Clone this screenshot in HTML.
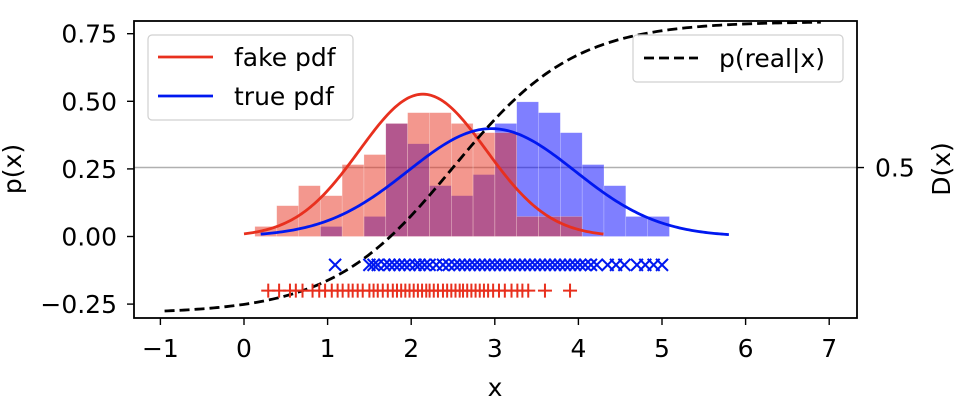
<!DOCTYPE html>
<html><head><meta charset="utf-8"><style>
html,body{margin:0;padding:0;background:#fff;}
svg{display:block;font-family:"DejaVu Sans","Liberation Sans",sans-serif;}
</style></head><body>
<svg id="chart" width="964" height="420" viewBox="0 0 964 420" xmlns="http://www.w3.org/2000/svg">
<g id="hists"></g>
<g id="lines"></g>
<g id="marks"></g>
<g id="axes"></g>
</svg>
<script>
const binStart = 0.13;
const binWidth = 0.261;
const fakeHist = [0.037,0.114,0.188,0.151,0.266,0.303,0.418,0.458,0.458,0.418,0.384,0.384,0.074,0.074,0.074,0,0,0,0];
const trueHist = [0,0,0,0.037,0,0.074,0.418,0.343,0.188,0.151,0.229,0.418,0.498,0.458,0.384,0.266,0.188,0.074,0.074];
const fakeMean = 2.14, fakeStd = 0.758, fakeRange = [0.0, 4.3];
const trueMean = 2.96, trueStd = 1.0, trueRange = [0.2, 5.8];
const discMid = 2.5, discSlope = 1.37, discRange = [-0.95, 6.9];
const fakeSamples = [0.29,0.42,0.55,0.62,0.7,0.82,0.9,0.97,1.05,1.12,1.18,1.25,1.3,1.36,1.42,1.5,1.55,1.6,1.66,1.72,1.78,1.83,1.88,1.93,1.98,2.03,2.08,2.13,2.18,2.22,2.27,2.32,2.38,2.43,2.48,2.53,2.58,2.62,2.67,2.72,2.77,2.82,2.87,2.92,2.98,3.05,3.12,3.2,3.27,3.33,3.4,3.6,3.9];
const trueSamples = [1.09,1.5,1.55,1.6,1.68,1.74,1.8,1.86,1.92,1.98,2.05,2.1,2.16,2.22,2.3,2.38,2.45,2.52,2.58,2.64,2.7,2.76,2.82,2.88,2.94,3.0,3.06,3.12,3.18,3.24,3.3,3.36,3.42,3.48,3.54,3.6,3.66,3.72,3.78,3.84,3.9,3.96,4.02,4.08,4.15,4.22,4.35,4.45,4.55,4.7,4.8,4.9,5.0];
const xTicks = [-1,0,1,2,3,4,5,6,7];
const yTicks = [0.75,0.50,0.25,0.00,-0.25];
const yTickLabels = ["0.75","0.50","0.25","0.00","\u22120.25"];
const fakeMarkerY = -0.2, trueMarkerY = -0.105;

const L=134,R=857,T=21,B=318;
const FS=25;
const X = v => 244 + v*83.6;
const Y = v => 236.5 - v*270.4;
const dLo=-0.285, dHi=0.795;
const YD = d => Y(dLo + d*(dHi-dLo));
const NS="http://www.w3.org/2000/svg";
function mk(tag, attrs, parent){const e=document.createElementNS(NS,tag);for(const k in attrs)e.setAttribute(k,attrs[k]);parent.appendChild(e);return e;}
const hists=document.getElementById('hists'),lines=document.getElementById('lines'),marks=document.getElementById('marks'),axes=document.getElementById('axes');

let ref=mk('line',{x1:L,x2:R,y1:YD(0.5),y2:YD(0.5),stroke:'#b0b0b0','stroke-width':1.5},hists);



function drawHist(vals,color,name){
  vals.forEach((h,i)=>{
    if(h<=0)return;
    const x0=X(binStart+i*binWidth),x1=X(binStart+(i+1)*binWidth);
    const r=mk('rect',{x:x0,y:Y(h),width:x1-x0,height:Y(0)-Y(h),fill:color,'fill-opacity':0.5,stroke:'#fff','stroke-opacity':0.4,'stroke-width':0.5},hists);
    
    
  });
}
drawHist(trueHist,'#0000ff','true-hist');
drawHist(fakeHist,'#e8301e','fake-hist');

function gauss(m,s,x){return Math.exp(-0.5*((x-m)/s)**2)/(s*Math.sqrt(2*Math.PI));}
function curve(fn,range,yf){let d='';for(let i=0;i<=200;i++){const x=range[0]+(range[1]-range[0])*i/200;d+=(i?'L':'M')+X(x).toFixed(2)+','+yf(fn(x)).toFixed(2);}return d;}
let p1=mk('path',{d:curve(x=>gauss(fakeMean,fakeStd,x),fakeRange,Y),fill:'none',stroke:'#e8301e','stroke-width':2.8},lines);


let p2=mk('path',{d:curve(x=>gauss(trueMean,trueStd,x),trueRange,Y),fill:'none',stroke:'#0018f0','stroke-width':2.8},lines);


let p3=mk('path',{d:curve(x=>1/(1+Math.exp(-discSlope*(x-discMid))),discRange,YD),fill:'none',stroke:'#000','stroke-width':2.8,'stroke-dasharray':'10,5'},lines);



fakeSamples.forEach(v=>{
  const cx=X(v),cy=Y(fakeMarkerY);
  const g=mk('path',{d:`M${cx-7},${cy}H${cx+7}M${cx},${cy-7}V${cy+7}`,stroke:'#e8301e','stroke-width':2},marks);
  
  
});
trueSamples.forEach(v=>{
  const cx=X(v),cy=Y(trueMarkerY);
  const g=mk('path',{d:`M${cx-6},${cy-6}L${cx+6},${cy+6}M${cx-6},${cy+6}L${cx+6},${cy-6}`,stroke:'#0018f0','stroke-width':2},marks);
  
  
});

let fr=mk('rect',{x:L,y:T,width:R-L,height:B-T,fill:'none',stroke:'#000','stroke-width':1.8},axes);


xTicks.forEach(v=>{
  const t=mk('line',{x1:X(v),x2:X(v),y1:B,y2:B+7,stroke:'#000','stroke-width':1.4},axes);
  
  
  const tx=mk('text',{x:X(v),y:B+39,'text-anchor':'middle','font-size':FS},axes);
  tx.textContent=v<0?'\u2212'+(-v):String(v);
  
  
});
yTicks.forEach((v,i)=>{
  const t=mk('line',{x1:L-7,x2:L,y1:Y(v),y2:Y(v),stroke:'#000','stroke-width':1.4},axes);
  
  
  const tx=mk('text',{x:L-17,y:Y(v)+9,'text-anchor':'end','font-size':FS},axes);
  tx.textContent=yTickLabels[i];
  
  
});
let rt=mk('line',{x1:R,x2:R+7,y1:YD(0.5),y2:YD(0.5),stroke:'#000','stroke-width':1.4},axes);


let rtl=mk('text',{x:R+18,y:YD(0.5)+9,'font-size':FS},axes);
rtl.textContent='0.5';


let xl=mk('text',{x:495,y:396,'text-anchor':'middle','font-size':FS},axes);
xl.textContent='x';


let yl=mk('text',{x:0,y:0,'text-anchor':'middle','font-size':FS,transform:'translate(21,169) rotate(-90)'},axes);
yl.textContent='p(x)';


let yr=mk('text',{x:0,y:0,'text-anchor':'middle','font-size':FS,transform:'translate(950,169) rotate(-90)'},axes);
yr.textContent='D(x)';



let lg=mk('rect',{x:148,y:35,width:205,height:85,rx:4,fill:'#fff','fill-opacity':0.8,stroke:'#d0d0d0','stroke-width':1.2},axes);


[['fake pdf','#e8301e',57],['true pdf','#0018f0',96]].forEach(([t,c,y])=>{
  const l=mk('line',{x1:158,x2:213,y1:y,y2:y,stroke:c,'stroke-width':2.8},axes);
  
  
  const tx=mk('text',{x:234,y:y+9,'font-size':FS},axes);
  tx.textContent=t;
  
  
});
let lg2=mk('rect',{x:633,y:35,width:210,height:47,rx:4,fill:'#fff','fill-opacity':0.8,stroke:'#d0d0d0','stroke-width':1.2},axes);


let l2=mk('line',{x1:644,x2:698,y1:58,y2:58,stroke:'#000','stroke-width':2.8,'stroke-dasharray':'10,5'},axes);


let t2=mk('text',{x:719,y:67,'font-size':FS},axes);
t2.textContent='p(real|x)';


</script>
</body></html>
